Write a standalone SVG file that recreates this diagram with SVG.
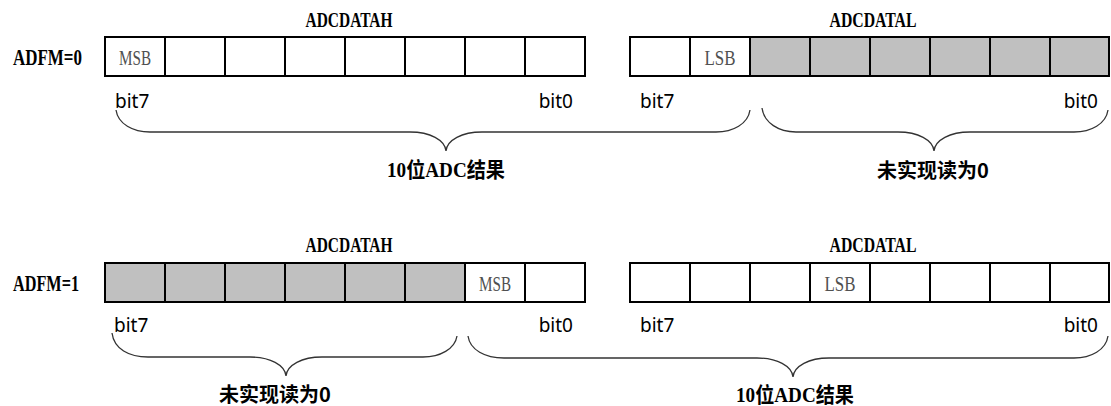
<svg xmlns="http://www.w3.org/2000/svg" width="1111" height="406" viewBox="0 0 1111 406">
  <style>
    .cell { fill: #ffffff; stroke: #000000; stroke-width: 2; }
    .off { fill: #c0c0c0; }
    .reg { font-family: "Liberation Serif", serif; font-weight: bold; font-size: 22px; fill: #000; }
    .mode { font-family: "Liberation Serif", serif; font-weight: bold; font-size: 23px; fill: #000; }
    .bitname { font-family: "Liberation Serif", serif; font-size: 21px; fill: #505050; text-anchor: middle; }
    .bit { font-family: "Noto Sans", "DejaVu Sans", sans-serif; font-size: 19px; fill: #000; }
    .brace { fill: none; stroke: #333333; stroke-width: 1.3; }
    .res { font-family: "Liberation Serif", "Noto Sans CJK SC", serif; font-weight: bold; font-size: 21px; text-anchor: middle; fill: #000; }
    .na { font-family: "Noto Sans CJK SC", sans-serif; font-weight: bold; font-size: 20px; text-anchor: middle; fill: #000; }
  </style>

  <!-- ADFM = 0 : left-justified result -->
  <g id="adfm0">
    <text class="mode" x="13" y="65" textLength="69" lengthAdjust="spacingAndGlyphs">ADFM=0</text>
  </g>
  <g id="adfm0-datah">
    <text class="reg" x="349" y="27" text-anchor="middle" textLength="87" lengthAdjust="spacingAndGlyphs">ADCDATAH</text>
    <rect class="cell" x="105" y="37" width="60" height="39"/>
    <rect class="cell" x="165" y="37" width="60" height="39"/>
    <rect class="cell" x="225" y="37" width="60" height="39"/>
    <rect class="cell" x="285" y="37" width="60" height="39"/>
    <rect class="cell" x="345" y="37" width="60" height="39"/>
    <rect class="cell" x="405" y="37" width="60" height="39"/>
    <rect class="cell" x="465" y="37" width="60" height="39"/>
    <rect class="cell" x="525" y="37" width="60" height="39"/>
    <text class="bitname" x="135" y="65" textLength="32" lengthAdjust="spacingAndGlyphs">MSB</text>
    <text class="bit" x="115" y="108">bit7</text>
    <text class="bit" x="573" y="108" text-anchor="end">bit0</text>
  </g>
  <g id="adfm0-datal">
    <text class="reg" x="873" y="27" text-anchor="middle" textLength="87" lengthAdjust="spacingAndGlyphs">ADCDATAL</text>
    <rect class="cell" x="630" y="37" width="60" height="39"/>
    <rect class="cell" x="690" y="37" width="60" height="39"/>
    <rect class="cell off" x="750" y="37" width="60" height="39"/>
    <rect class="cell off" x="810" y="37" width="60" height="39"/>
    <rect class="cell off" x="870" y="37" width="60" height="39"/>
    <rect class="cell off" x="930" y="37" width="60" height="39"/>
    <rect class="cell off" x="990" y="37" width="60" height="39"/>
    <rect class="cell off" x="1050" y="37" width="59" height="39"/>
    <text class="bitname" x="720" y="65" textLength="31" lengthAdjust="spacingAndGlyphs">LSB</text>
    <text class="bit" x="640" y="108">bit7</text>
    <text class="bit" x="1098" y="108" text-anchor="end">bit0</text>
  </g>

  <!-- ADFM = 1 : right-justified result -->
  <g id="adfm1">
    <text class="mode" x="13" y="291" textLength="66" lengthAdjust="spacingAndGlyphs">ADFM=1</text>
  </g>
  <g id="adfm1-datah">
    <text class="reg" x="349" y="252" text-anchor="middle" textLength="87" lengthAdjust="spacingAndGlyphs">ADCDATAH</text>
    <rect class="cell off" x="105" y="263" width="60" height="39"/>
    <rect class="cell off" x="165" y="263" width="60" height="39"/>
    <rect class="cell off" x="225" y="263" width="60" height="39"/>
    <rect class="cell off" x="285" y="263" width="60" height="39"/>
    <rect class="cell off" x="345" y="263" width="60" height="39"/>
    <rect class="cell off" x="405" y="263" width="60" height="39"/>
    <rect class="cell" x="465" y="263" width="60" height="39"/>
    <rect class="cell" x="525" y="263" width="60" height="39"/>
    <text class="bitname" x="495" y="291" textLength="32" lengthAdjust="spacingAndGlyphs">MSB</text>
    <text class="bit" x="114" y="332">bit7</text>
    <text class="bit" x="573" y="332" text-anchor="end">bit0</text>
  </g>
  <g id="adfm1-datal">
    <text class="reg" x="873" y="252" text-anchor="middle" textLength="87" lengthAdjust="spacingAndGlyphs">ADCDATAL</text>
    <rect class="cell" x="630" y="263" width="60" height="39"/>
    <rect class="cell" x="690" y="263" width="60" height="39"/>
    <rect class="cell" x="750" y="263" width="60" height="39"/>
    <rect class="cell" x="810" y="263" width="60" height="39"/>
    <rect class="cell" x="870" y="263" width="60" height="39"/>
    <rect class="cell" x="930" y="263" width="60" height="39"/>
    <rect class="cell" x="990" y="263" width="60" height="39"/>
    <rect class="cell" x="1050" y="263" width="59" height="39"/>
    <text class="bitname" x="840" y="291" textLength="31" lengthAdjust="spacingAndGlyphs">LSB</text>
    <text class="bit" x="640" y="332">bit7</text>
    <text class="bit" x="1098" y="332" text-anchor="end">bit0</text>
  </g>

  <!-- braces grouping the bit ranges -->
  <g id="connectors">
    <path class="brace" d="M116,110 C118,124 133,132 150,132 L410,132 C430,132 445,140 446,151 C447,140 462,132 482,132 L716,132 C733,132 748,124 750,110"/>
    <path class="brace" d="M762,108 C764,123 779,132 796,132 L898,132 C918,132 933,140 934,151 C935,140 950,132 970,132 L1074,132 C1091,132 1106,124 1108,110"/>
    <path class="brace" d="M112,333 C114,349 129,357 148,357 L250,357 C270,357 285,365 286,376 C287,365 302,357 322,357 L423,357 C440,357 455,349 457,336"/>
    <path class="brace" d="M468,336 C470,350 485,358 504,358 L757,358 C777,358 792,366 793,377 C794,366 809,358 829,358 L1074,358 C1091,358 1106,350 1108,336"/>
  </g>

  <g id="label-result-0">
    <text class="res" x="446" y="177" textLength="118" lengthAdjust="spacingAndGlyphs">10位ADC结果</text>
  </g>
  <g id="label-unused-0">
    <text class="na" x="933" y="178">未实现读为0</text>
  </g>
  <g id="label-unused-1">
    <text class="na" x="275" y="402">未实现读为0</text>
  </g>
  <g id="label-result-1">
    <text class="res" x="795" y="402" textLength="118" lengthAdjust="spacingAndGlyphs">10位ADC结果</text>
  </g>
</svg>
